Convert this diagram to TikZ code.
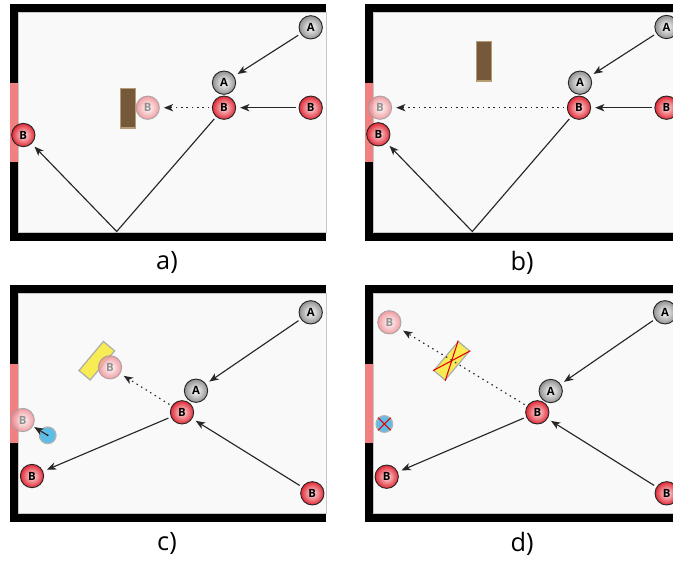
\documentclass[tikz,border=0pt]{standalone}
\usepackage{fontspec}
\setmainfont{Open Sans}
\usepackage{tikz}
\usetikzlibrary{arrows.meta}

\definecolor{ballred}{RGB}{226,40,52}
\definecolor{ghostred}{RGB}{238,140,146}
\definecolor{ballgray}{RGB}{145,145,145}
\definecolor{doorpink}{RGB}{242,128,128}
\definecolor{roomfill}{RGB}{249,249,249}
\definecolor{cratebrown}{RGB}{118,88,58}
\definecolor{cratetan}{RGB}{180,158,114}
\definecolor{panelyellow}{RGB}{247,236,84}
\definecolor{puckblue}{RGB}{92,190,232}

\begin{document}
\begin{tikzpicture}[x=0.75pt,y=-0.75pt,
  wall/.style={fill=black},
  room/.style={fill=roomfill,draw=black!22,line width=0.5pt},
  door/.style={fill=doorpink},
  ball/.style={circle,draw=black!85,line width=0.7pt,minimum size=17.5pt,inner sep=0pt,
    font=\fontsize{8.5}{9}\selectfont\bfseries},
  ballb/.style={ball,inner color=ballred!12!white,outer color=ballred},
  balla/.style={ball,inner color=white,outer color=ballgray},
  ghost/.style={ball,draw=gray!75,inner color=white,outer color=ghostred,text=gray,opacity=0.85},
  crate/.style={draw=cratetan,line width=0.9pt,fill=cratebrown,minimum width=11pt,minimum height=29.5pt,inner sep=0pt},
  shield/.style={draw=gray!65,line width=0.9pt,fill=panelyellow,minimum width=28.5pt,minimum height=11pt,inner sep=0pt,rotate=50},
  puck/.style={circle,draw=gray!60,line width=0.9pt,fill=puckblue,minimum size=12.5pt,inner sep=0pt},
  move/.style={draw=black!85,line width=0.85pt,-{Stealth[length=7pt,width=5.5pt,inset=2pt]},shorten >=3pt,shorten <=2pt},
  pass/.style={move,dash pattern=on 1.1pt off 2.9pt},
  cross/.style={draw=red!90!black,line width=0.8pt},
  caption/.style={font=\fontsize{19}{21}\selectfont}]
  \clip (0,0) rectangle (673,565);

  \foreach \dx/\dy in {0/0,355/0,0/281,355/281}{
    \begin{scope}[shift={(\dx,\dy)}]
      \fill[wall] (10,4) rectangle (326,240.5);
      \filldraw[room] (18.3,12.3) rectangle (326,232);
      \fill[door] (10,83.3) rectangle (18.3,161.7);
    \end{scope}
  }

  \begin{scope}
    \node[crate] (a-crate) at (128,108.3) {};
    \node[ghost] (a-Bghost) at (147.7,107.7) {B};
    \node[balla] (a-A1) at (310.7,27.3) {A};
    \node[balla] (a-A2) at (224,82.7) {A};
    \node[ballb] (a-B) at (224,107.7) {B};
    \node[ballb] (a-Bin) at (310.7,107.7) {B};
    \node[ballb] (a-Bwall) at (23.3,135) {B};
    \coordinate (a-hit) at (116.7,231.5);
    \draw[move] (a-A1) -- (a-A2);
    \draw[move] (a-Bin) -- (a-B);
    \draw[move] (a-B) -- (a-hit) -- (a-Bwall);
    \draw[pass] (a-B) -- (a-Bghost);
    \node[caption] (cap-a) at (167,262.4) {a)};
  \end{scope}

  \begin{scope}[shift={(355,0)}]
    \node[crate] (b-crate) at (128.8,61.3) {};
    \node[ghost] (b-Bghost) at (25,107.7) {B};
    \node[balla] (b-A1) at (311.5,27) {A};
    \node[balla] (b-A2) at (225,82.7) {A};
    \node[ballb] (b-B) at (224,107.7) {B};
    \node[ballb] (b-Bin) at (311.5,107.7) {B};
    \node[ballb] (b-Bwall) at (23.3,134.3) {B};
    \coordinate (b-hit) at (117.3,231.5);
    \draw[move] (b-A1) -- (b-A2);
    \draw[move] (b-Bin) -- (b-B);
    \draw[move] (b-B) -- (b-hit) -- (b-Bwall);
    \draw[pass] (b-B) -- (b-Bghost);
    \node[caption] (cap-b) at (167,262.4) {b)};
  \end{scope}

  \begin{scope}[shift={(0,281)}]
    \node[shield] (c-shield) at (96.8,79.7) {};
    \node[ghost] (c-Bghost) at (110,86.3) {B};
    \node[ghost] (c-Bwall) at (22.7,139) {B};
    \node[puck] (c-puck) at (47.7,154.3) {};
    \node[balla] (c-A1) at (310.7,31.3) {A};
    \node[balla] (c-A2) at (196,109.7) {A};
    \node[ballb] (c-B) at (182,131.3) {B};
    \node[ballb] (c-Bin) at (312.3,212.3) {B};
    \node[ballb] (c-Bout) at (32,195) {B};
    \draw[move] (c-A1) -- (c-A2);
    \draw[move] (c-Bin) -- (c-B);
    \draw[move] (c-B) -- (c-Bout);
    \draw[pass] (c-B) -- (c-Bghost);
    \fill (c-puck.center) circle (0.7pt);
    \draw[move,shorten <=0pt,shorten >=1pt] (c-puck.center) -- (c-Bwall);
    \node[caption] (cap-c) at (167,262.4) {c)};
  \end{scope}

  \begin{scope}[shift={(355,281)}]
    \node[shield] (d-shield) at (96.7,79.7) {};
    \draw[cross] (d-shield.north west) -- (d-shield.south east);
    \draw[cross] (d-shield.north east) -- (d-shield.south west);
    \node[puck] (d-puck) at (29.3,143) {};
    \draw[cross] (d-puck.north west) -- (d-puck.south east);
    \draw[cross] (d-puck.north east) -- (d-puck.south west);
    \node[ghost] (d-Bghost) at (34.3,41.3) {B};
    \node[balla] (d-A1) at (310,31.3) {A};
    \node[balla] (d-A2) at (195.7,110) {A};
    \node[ballb] (d-B) at (182.3,131.3) {B};
    \node[ballb] (d-Bin) at (311.7,212.3) {B};
    \node[ballb] (d-Bout) at (31.7,195.7) {B};
    \draw[move] (d-A1) -- (d-A2);
    \draw[move] (d-Bin) -- (d-B);
    \draw[move] (d-B) -- (d-Bout);
    \draw[pass] (d-B) -- (d-Bghost);
    \node[caption] (cap-d) at (167,262.4) {d)};
  \end{scope}
\end{tikzpicture}
\end{document}
